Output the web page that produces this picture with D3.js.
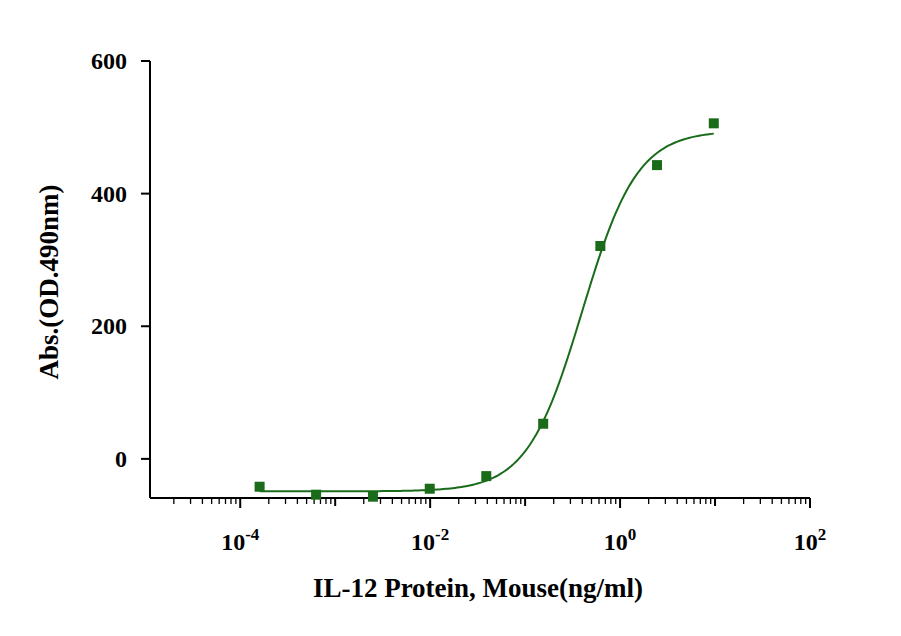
<!DOCTYPE html>
<html><head><meta charset="utf-8">
<script src="https://cdn.jsdelivr.net/npm/d3@7"></script>
<style>body{margin:0;background:#fff}text{font-family:"Liberation Serif","Times New Roman",serif;font-weight:bold}</style>
</head><body><svg id="c" width="901" height="636"></svg>
<script>
const concentrations=[1.6e-4,6.3e-4,2.5e-3,9.9e-3,0.039,0.155,0.62,2.45,9.7];
const absorbance=[-42,-54,-57,-45,-26,53,321,443,506];
const fitParams={bottom:-49,top:495,ec50:0.4,hill:1.5};
const yTicks=[0,200,400,600];
const xTickExps=[-4,-2,0,2];
const color="#1a6b1a";
const svg=d3.select("#c");
const x=d3.scaleLog().domain([Math.pow(10,-4.95),100]).range([150,810]);
const y=d3.scaleLinear().domain([-59,600]).range([498,61]);
svg.append("line").attr("x1",150).attr("x2",150).attr("y1",y(600)).attr("y2",498).attr("stroke","#000").attr("stroke-width",2);
svg.append("line").attr("x1",150).attr("x2",810).attr("y1",498).attr("y2",498).attr("stroke","#000").attr("stroke-width",2);
yTicks.forEach(t=>{
 svg.append("line").attr("x1",141).attr("x2",150).attr("y1",y(t)).attr("y2",y(t)).attr("stroke","#000").attr("stroke-width",2);
 svg.append("text").attr("x",127).attr("y",y(t)+8).attr("text-anchor","end").attr("font-size",24).text(t);
});
for(let e=-5;e<2;e++){for(let m=1;m<10;m++){const v=m*Math.pow(10,e);if(v<x.domain()[0])continue;
 const major=(m===1&&e%2===0);
 svg.append("line").attr("x1",x(v)).attr("x2",x(v)).attr("y1",498).attr("y2",498+(major?10:(m===1?8:6))).attr("stroke","#000").attr("stroke-width",m===1?2:1.3);}}
svg.append("line").attr("x1",x(100)).attr("x2",x(100)).attr("y1",498).attr("y2",508).attr("stroke","#000").attr("stroke-width",2);
xTickExps.forEach(e=>{
 const t=svg.append("text").attr("x",x(Math.pow(10,e))).attr("y",550).attr("text-anchor","middle").attr("font-size",24);
 t.append("tspan").text("10");
 t.append("tspan").attr("dy",-10).attr("font-size",17).text(e<0?"-"+(-e):e);
});
svg.append("text").attr("x",478).attr("y",597).attr("text-anchor","middle").attr("font-size",27).text("IL-12 Protein, Mouse(ng/ml)");
svg.append("text").attr("transform","translate(58,282) rotate(-90)").attr("text-anchor","middle").attr("font-size",27).text("Abs.(OD.490nm)");
const f=c=>fitParams.bottom+(fitParams.top-fitParams.bottom)/(1+Math.pow(fitParams.ec50/c,fitParams.hill));
const lo=Math.log10(concentrations[0]),hi=Math.log10(concentrations[concentrations.length-1]);
const pts=d3.range(0,201).map(i=>{const c=Math.pow(10,lo+(hi-lo)*i/200);return [x(c),y(f(c))];});
svg.append("path").attr("d",d3.line()(pts)).attr("fill","none").attr("stroke",color).attr("stroke-width",2);
svg.selectAll("rect.p").data(concentrations).enter().append("rect")
 .attr("x",d=>x(d)-5).attr("y",(d,i)=>y(absorbance[i])-5).attr("width",10).attr("height",10).attr("fill",color);
</script></body></html>
